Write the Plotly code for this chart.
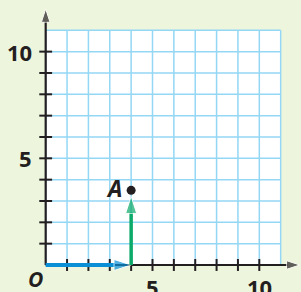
import plotly.graph_objects as go

# ---- data ----
grid_vals = list(range(0, 12))          # grid lines 0..11
tick_vals = list(range(1, 11))          # ticks 1..10
x_tick_labels = [5, 10]
y_tick_labels = [5, 10]
x_axis_end = 11.9
y_axis_end = 12.0
point_A = (4, 3.5)
point_label = "A"
origin_label = "O"

# ---- styles ----
BG = "#EEF5DD"
GRID = "#93D7F5"
INK = "#231F20"
BLUE = "#0A8FD6"
GREEN = "#0BAA6A"
FONT = "Open Sans"

fig = go.Figure()

# grid
gx, gy = [], []
for v in grid_vals:
    gx += [v, v, None]
    gy += [grid_vals[0], grid_vals[-1], None]
    gx += [grid_vals[0], grid_vals[-1], None]
    gy += [v, v, None]
fig.add_trace(go.Scatter(x=gx, y=gy, mode="lines",
                         line=dict(color=GRID, width=1.5), hoverinfo="skip"))

# axes with arrowheads
fig.add_trace(go.Scatter(x=[0, x_axis_end], y=[0, 0], mode="lines+markers",
                         line=dict(color=INK, width=2.2),
                         marker=dict(symbol="arrow", angleref="previous",
                                     size=[0, 14], color=INK),
                         hoverinfo="skip"))
fig.add_trace(go.Scatter(x=[0, 0], y=[0, y_axis_end], mode="lines+markers",
                         line=dict(color=INK, width=2.2),
                         marker=dict(symbol="arrow", angleref="previous",
                                     size=[0, 14], color=INK),
                         hoverinfo="skip"))

# ticks (crossing the axes)
TX = 0.30   # half tick length in x units (y-axis ticks)
TY = 0.28   # half tick length in y units (x-axis ticks)
tx, ty = [], []
for v in tick_vals:
    tx += [v, v, None]
    ty += [-TY, TY, None]
    tx += [-TX, TX, None]
    ty += [v, v, None]
fig.add_trace(go.Scatter(x=tx, y=ty, mode="lines",
                         line=dict(color=INK, width=2), hoverinfo="skip"))

# blue arrow along x
fig.add_trace(go.Scatter(x=[0, point_A[0]], y=[0, 0], mode="lines+markers",
                         line=dict(color=BLUE, width=4),
                         marker=dict(symbol="arrow", angleref="previous",
                                     size=[0, 18], color=BLUE),
                         hoverinfo="skip"))
# green arrow up toward A
fig.add_trace(go.Scatter(x=[point_A[0], point_A[0]], y=[0, point_A[1]],
                         mode="lines+markers",
                         line=dict(color=GREEN, width=3.5),
                         marker=dict(symbol="arrow", angleref="previous",
                                     size=[0, 18], color=GREEN, standoff=6),
                         hoverinfo="skip"))
# point A
fig.add_trace(go.Scatter(x=[point_A[0]], y=[point_A[1]], mode="markers",
                         marker=dict(size=9, color=INK), hoverinfo="skip"))

# white grid background
fig.add_shape(type="rect", x0=grid_vals[0], x1=grid_vals[-1],
              y0=grid_vals[0], y1=grid_vals[-1],
              fillcolor="white", line=dict(width=0), layer="below")

ann = []
for v in y_tick_labels:
    ann.append(dict(x=-0.55, y=v, text=f"<b>{v}</b>", xanchor="right",
                    yanchor="middle", showarrow=False,
                    font=dict(family=FONT, size=22, color=INK)))
for v in x_tick_labels:
    ann.append(dict(x=v, y=-0.22, text=f"<b>{v}</b>", xanchor="center",
                    yanchor="top", showarrow=False,
                    font=dict(family=FONT, size=22, color=INK)))
ann.append(dict(x=-0.5, y=-0.67, text=f"<b><i>{origin_label}</i></b>",
                xanchor="center", yanchor="middle", showarrow=False,
                font=dict(family=FONT, size=21, color=INK)))
ann.append(dict(x=3.2, y=3.63, text=f"<b><i>{point_label}</i></b>",
                xanchor="center", yanchor="middle", showarrow=False,
                font=dict(family=FONT, size=23, color=INK)))

fig.update_layout(
    width=301, height=292, autosize=False,
    margin=dict(l=0, r=0, t=0, b=0, pad=0),
    paper_bgcolor=BG, plot_bgcolor=BG,
    showlegend=False,
    xaxis=dict(range=[-2.139, 11.952], visible=False, fixedrange=True),
    yaxis=dict(range=[-1.266, 12.42], visible=False, fixedrange=True),
    annotations=ann,
)

fig.write_html("out.html", config={"displayModeBar": False},
               post_script="document.body.style.margin='0';document.body.style.overflow='hidden';")
